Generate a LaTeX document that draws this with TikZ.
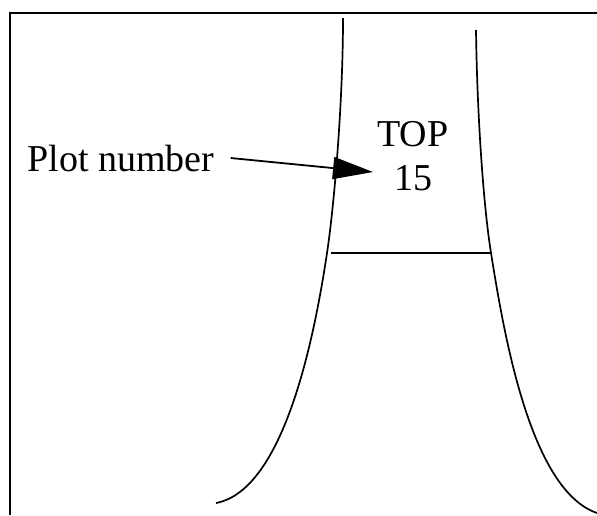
\documentclass[tikz,border=0pt]{standalone}
\usepackage{fontspec}
\setmainfont{Liberation Serif}
\usepackage{tikz}
\usetikzlibrary{arrows.meta, positioning}

\begin{document}
\begin{tikzpicture}[
        x=0.5pt, y=-0.5pt,
        frame/.style={line width=1.1pt},
        edge/.style={line width=0.85pt},
        arr/.style={-{Triangle[length=20pt, width=11pt]}, line width=0.9pt},
        label/.style={font=\fontsize{19}{22.2}\selectfont, align=center, inner sep=0pt}
    ]
        \useasboundingbox (0,0) rectangle (597,515);
        % Frame
        \draw[frame] (10,515) -- (10,13) -- (597,13);
        % Cross line
        \coordinate (cl) at (327,253);
        \coordinate (cr) at (491,253);
        \draw[edge] ([xshift=2pt]cl) -- (cr);
        % Left edge of the stem
        \draw[edge] (343,18) .. controls (343,100) and (334.5,203) .. (cl)
            .. controls (315,333) and (285,490) .. (216,503);
        % Right edge of the stem
        \draw[edge] (476,30) .. controls (477,110) and (483,203) .. (cr)
            .. controls (503.8,333) and (530,490) .. (597,513);
        % Labels
        \node[label, anchor=base west, inner xsep=8pt] (plotlbl) at (11,171) {Plot number};
        \node[label] (toplbl) at (413,156) {TOP\\15};
        % Arrow
        \coordinate (tip) at (373,172);
        \draw[arr] (plotlbl.east) -- (tip);
    \end{tikzpicture}
\end{document}
